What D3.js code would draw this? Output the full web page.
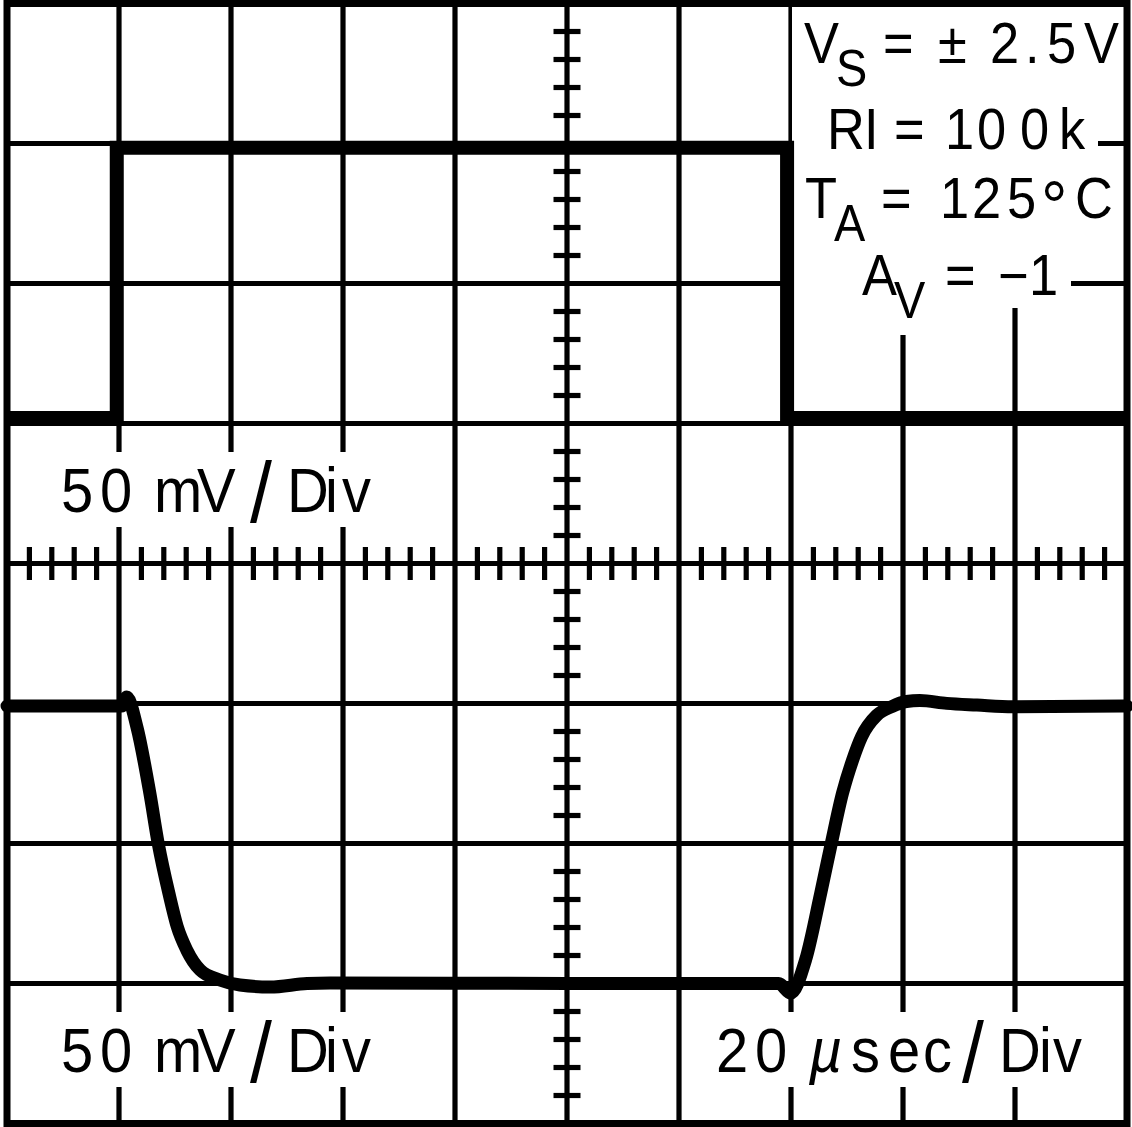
<!DOCTYPE html>
<html>
<head>
<meta charset="utf-8">
<script src="https://cdn.jsdelivr.net/npm/d3@7"></script>
<style>
  body { margin: 0; background: #fff; }
  svg { display: block; }
  text { font-family: "Liberation Sans", Arial, Helvetica, sans-serif; fill: #000; }
</style>
</head>
<body>
<svg width="1132" height="1127"></svg>
<script>
// scope screen: 10 divisions of 20 usec, 8 divisions of 50 mV
var timeGrid = [20, 40, 60, 80, 100, 120, 140, 160, 180];
var divGrid = [-3, -2, -1, 0, 1, 2, 3];

// input square wave (upper trace), in divisions
var inputTime = [0, 19.6, 19.6, 139.3, 139.3, 200];
var inputDiv = [1.04, 1.04, 2.97, 2.97, 1.04, 1.04];

// output (lower trace), inverted, in divisions
var outputTime = [0, 20.5, 21.4, 23.2, 25.5, 27.0, 28.9, 30.4, 32.1, 34.5,
                  38.0, 41.6, 47.0, 53.6, 57.7, 100, 137.8, 139.95, 142.6, 145.3,
                  147.2, 149.2, 151.0, 152.6, 155.3, 158.0, 160.6, 163.0, 167.8, 173.2,
                  179.6, 200];
var outputDiv = [-1.018, -1.018, -0.954, -1.168, -1.639, -1.999, -2.354, -2.594, -2.761, -2.904,
                 -2.975, -3.011, -3.025, -3.0, -2.996, -3.0, -3.0, -3.068, -2.832, -2.356,
                 -1.999, -1.641, -1.404, -1.237, -1.085, -1.022, -0.986, -0.979, -0.999, -1.011,
                 -1.023, -1.018];

// text, one glyph position per character (big: enlarged glyph, sub: subscript)
var noteLines = [
  { y: 63, parts: [{ s: 'V', x: [804] }, { s: 'S', x: [836], sub: 1 }, { s: '=', x: [883] },
                   { s: '\u00b1', x: [938] }, { s: '2.5V', x: [990, 1025, 1047, 1084] }] },
  { y: 149, parts: [{ s: 'RI', x: [827, 864] }, { s: '=', x: [894] },
                    { s: '100k', x: [945, 977, 1020, 1059] }] },
  { y: 218, parts: [{ s: 'T', x: [805] }, { s: 'A', x: [834], sub: 1 }, { s: '=', x: [881] },
                    { s: '125', x: [940, 972, 1007] }, { s: '\u00b0', x: [1041], big: 1 },
                    { s: 'C', x: [1075] }] },
  { y: 295, parts: [{ s: 'A', x: [862] }, { s: 'V', x: [894], sub: 1 }, { s: '=', x: [945] },
                    { s: '\u22121', x: [998, 1029] }] }
];
var scaleLabels = [
  { y: 512, parts: [{ s: '50', x: [61, 100] }, { s: 'mV', x: [154, 197] }, { s: '/', x: [250], big: 1 },
                    { s: 'Div', x: [287, 325, 342] }] },
  { y: 1072, parts: [{ s: '50', x: [61, 100] }, { s: 'mV', x: [154, 197] }, { s: '/', x: [250], big: 1 },
                     { s: 'Div', x: [287, 325, 342] }] },
  { y: 1072, parts: [{ s: '20', x: [716, 755] }, { s: '\u00b5', x: [809], it: 1 },
                     { s: 'sec', x: [851, 888, 923] }, { s: '/', x: [962], big: 1 },
                     { s: 'Div', x: [999, 1039, 1053] }] }
];

var svg = d3.select('svg');

var x = d3.scaleLinear().domain([0, 200]).range([7, 1127]);
var y = d3.scaleLinear().domain([-4, 4]).range([1123.5, 3.5]);

var lineW = 5.2;
var squeeze = 0.92;   // the scope font is narrower than Liberation Sans

function clean(g, w) {
  g.select('.domain').remove();
  g.selectAll('line').attr('stroke', '#000').attr('stroke-width', w);
}

// grid lines
svg.append('g')
  .attr('transform', 'translate(0,' + y(-4) + ')')
  .call(d3.axisBottom(x).tickValues(timeGrid).tickSize(-(y(-4) - y(4))).tickFormat('').offset(0))
  .call(clean, lineW);
svg.append('g')
  .attr('transform', 'translate(' + x(0) + ',0)')
  .call(d3.axisLeft(y).tickValues(divGrid).tickSize(-(x(200) - x(0))).tickFormat('').offset(0))
  .call(clean, lineW);

// minor ticks on the centre axes
var minorT = d3.range(4, 200, 4).filter(function (v) { return v % 20 !== 0; });
var minorV = d3.range(-3.8, 3.9, 0.2).filter(function (v) { return Math.abs(v - Math.round(v)) > 1e-6; });
[d3.axisTop, d3.axisBottom].forEach(function (ax) {
  svg.append('g')
    .attr('transform', 'translate(0,' + y(0) + ')')
    .call(ax(x).tickValues(minorT).tickSize(16.5).tickFormat('').offset(0))
    .call(clean, lineW);
});
[d3.axisLeft, d3.axisRight].forEach(function (ax) {
  svg.append('g')
    .attr('transform', 'translate(' + x(100) + ',0)')
    .call(ax(y).tickValues(minorV).tickSize(13.5).tickFormat('').offset(0))
    .call(clean, lineW);
});

var bgLayer = svg.append('g');
var textLayer = svg.append('g');

function addText(spec, size, o) {
  var t = textLayer.append('text')
    .attr('font-size', size)
    .attr('transform', 'scale(' + squeeze + ',1)');
  var kinds = [];
  spec.parts.forEach(function (p) {
    var ts = t.append('tspan')
      .attr('x', p.x.map(function (v) { return v / squeeze; }).join(' '))
      .attr('y', spec.y + (p.sub ? o.subDrop : p.big ? o.bigDrop : 0))
      .text(p.s);
    if (p.sub) ts.attr('font-size', o.subSize);
    if (p.big) ts.attr('font-size', o.bigSize);
    if (p.it) ts.attr('font-style', 'italic');
    for (var i = 0; i < p.s.length; i++) kinds.push(p.sub ? 'sub' : 'main');
  });
  var boxes = { main: null, sub: null };
  kinds.forEach(function (k, i) {
    var e = t.node().getExtentOfChar(i);
    var x0 = e.x * squeeze, x1 = (e.x + e.width) * squeeze;
    var b = boxes[k];
    if (!b) boxes[k] = { x0: x0, y0: e.y, x1: x1, y1: e.y + e.height };
    else {
      b.x0 = Math.min(b.x0, x0); b.y0 = Math.min(b.y0, e.y);
      b.x1 = Math.max(b.x1, x1); b.y1 = Math.max(b.y1, e.y + e.height);
    }
  });
  return boxes;
}

function whiteRect(x0, y0, x1, y1) {
  x0 = Math.floor(x0); y0 = Math.floor(y0);
  bgLayer.append('rect')
    .attr('x', x0).attr('y', y0)
    .attr('width', Math.ceil(x1) - x0).attr('height', Math.ceil(y1) - y0)
    .attr('fill', '#fff');
}

// annotation block, white band behind each line
var noteBoxes = noteLines.map(function (l) {
  return addText(l, 57, { subSize: 51, subDrop: 23, bigSize: 72, bigDrop: 13 });
});
var left = d3.min(noteBoxes, function (b) { return b.main.x0; }) - 11;
var prevBottom = y(4);
noteBoxes.forEach(function (b, i) {
  var bottom = i === noteBoxes.length - 1 ? 307 : b.main.y1;
  whiteRect(left, prevBottom - 1, b.main.x1 + 12, bottom + 1);
  prevBottom = bottom;
  if (b.sub) whiteRect(b.sub.x0 - 6, b.sub.y0, b.sub.x1 + 6, b.sub.y1 + 6);
});

// volts / time per division labels
scaleLabels.forEach(function (l) {
  var b = addText(l, 63, { bigSize: 86, bigDrop: 10 }).main;
  whiteRect(b.x0 - 8, l.y - 60, b.x1 + 8, l.y + 15);
});

// traces
var inputData = inputTime.map(function (t, i) { return { t: t, v: inputDiv[i] }; });
var outputData = outputTime.map(function (t, i) { return { t: t, v: outputDiv[i] }; });

svg.append('path')
  .datum(inputData)
  .attr('d', d3.line().x(function (d) { return x(d.t); }).y(function (d) { return y(d.v); }))
  .attr('fill', 'none')
  .attr('stroke', '#000')
  .attr('stroke-width', 14)
  .attr('stroke-linejoin', 'miter');

svg.append('path')
  .datum(outputData)
  .attr('d', d3.line().curve(d3.curveMonotoneX)
    .x(function (d) { return x(d.t); }).y(function (d) { return y(d.v); }))
  .attr('fill', 'none')
  .attr('stroke', '#000')
  .attr('stroke-width', 13)
  .attr('stroke-linejoin', 'round')
  .attr('stroke-linecap', 'round');

// outer frame
svg.append('rect')
  .attr('x', x(0)).attr('y', y(4))
  .attr('width', x(200) - x(0)).attr('height', y(-4) - y(4))
  .attr('fill', 'none')
  .attr('stroke', '#000')
  .attr('stroke-width', 7);
</script>
</body>
</html>
